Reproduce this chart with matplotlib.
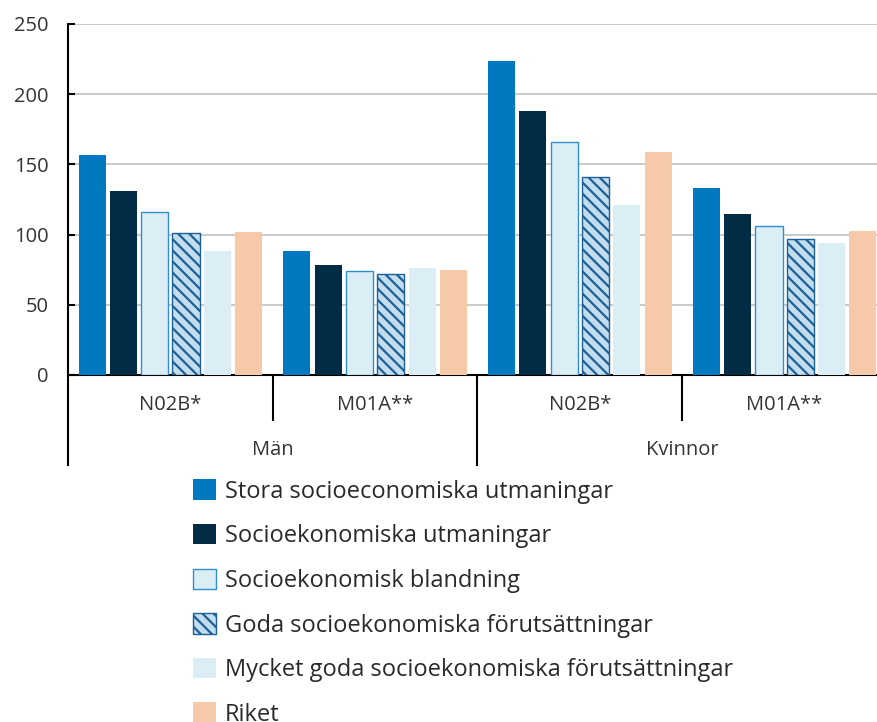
import matplotlib
matplotlib.use("Agg")
import matplotlib.pyplot as plt
import numpy as np

plt.rcParams["font.family"] = ["Open Sans", "DejaVu Sans"]
plt.rcParams["hatch.linewidth"] = 1.6

# data
groups = ["N02B*", "M01A**", "N02B*", "M01A**"]
sexes = ["Män", "Kvinnor"]
series = [
    "Stora socioeconomiska utmaningar",
    "Socioekonomiska utmaningar",
    "Socioekonomisk blandning",
    "Goda socioekonomiska förutsättningar",
    "Mycket goda socioekonomiska förutsättningar",
    "Riket",
]
stora = [157, 88, 224, 133]
utman = [131, 78, 188, 115]
bland = [116, 74, 166, 106]
goda = [101, 72, 141, 97]
mycket = [88, 76, 121, 94]
riket = [102, 74.5, 159, 102.5]
values = [stora, utman, bland, goda, mycket, riket]

styles = [
    dict(color="#0079c1"),
    dict(color="#022c45"),
    dict(facecolor="#dbeef6", edgecolor="#2e8fd0", linewidth=1.0),
    dict(facecolor="#c3dcee", edgecolor="#1b6096", linewidth=1.0, hatch="\\\\\\"),
    dict(color="#dbeef6"),
    dict(color="#f6c9a9"),
]

fig = plt.figure(figsize=(8.78, 7.22), dpi=100)
ax = fig.add_axes([68 / 878, 347 / 722, 819 / 878, 351 / 722])

x = np.arange(len(groups))
step = 0.1527
width = 0.132
handles = []
for i, (vals, st) in enumerate(zip(values, styles)):
    b = ax.bar(x + (i - 2.5) * step, vals, width, label=series[i], zorder=3, **st)
    handles.append(b)

ax.set_xlim(-0.5, 3.5)
ax.set_ylim(0, 250)
ax.set_yticks([0, 50, 100, 150, 200, 250])
ax.yaxis.grid(True, color="#c6c6c6", linewidth=1.3, zorder=0)
ax.set_axisbelow(True)
ax.set_xticks([])
for s in ["top", "right"]:
    ax.spines[s].set_visible(False)
ax.spines["left"].set_linewidth(1.5)
ax.spines["bottom"].set_linewidth(1.5)
ax.tick_params(axis="y", direction="in", length=5, width=1.5, labelsize=14.5,
               labelcolor="#333333", pad=14)

# two-level category axis
tr = ax.get_xaxis_transform()
for i, g in enumerate(groups):
    ax.text(i, -0.085, g, transform=tr, ha="center", va="center",
            fontsize=14.5, color="#333333")
for j, s in enumerate(sexes):
    ax.text(2 * j + 0.5, -0.214, s, transform=tr, ha="center", va="center",
            fontsize=14.5, color="#333333")
for xb in [0.5, 2.5]:
    ax.plot([xb, xb], [0, -0.128], transform=tr, color="black", lw=1.5, clip_on=False)
for xb in [-0.5, 1.5, 3.5]:
    ax.plot([xb, xb], [0, -0.256], transform=tr, color="black", lw=1.5, clip_on=False)

fig.legend(handles, series, loc="upper left", bbox_to_anchor=(184 / 878, 1 - 470 / 722),
           frameon=False, fontsize=17, handlelength=0.95, handleheight=0.95,
           handletextpad=0.38, labelspacing=0.86, labelcolor="#2a2a2a",
           borderaxespad=0)

fig.savefig("out.png", dpi=100)
